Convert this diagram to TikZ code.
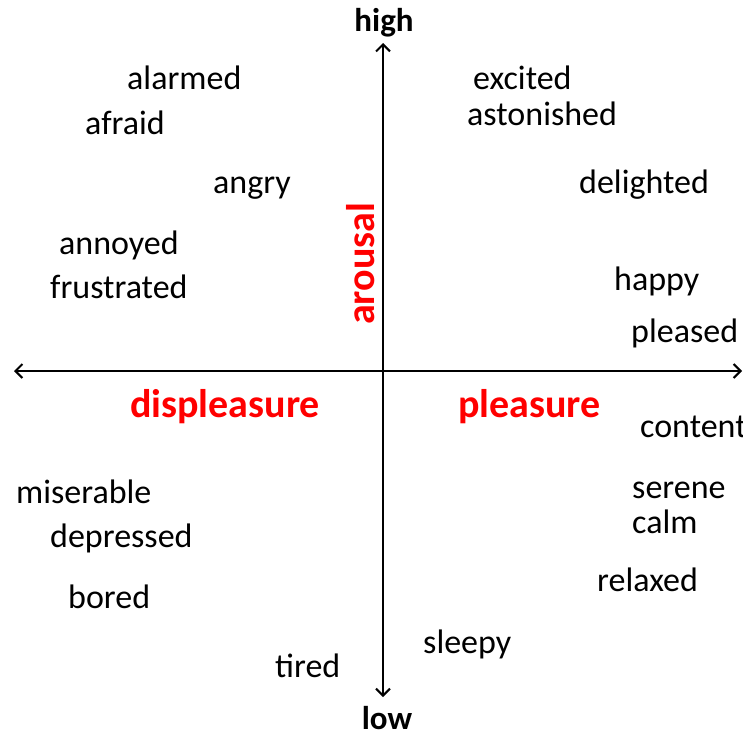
\documentclass[tikz,border=0pt]{standalone}
\usepackage{fontspec}
\setmainfont{Carlito}
\usetikzlibrary{arrows.meta}
\begin{document}
\begin{tikzpicture}[x=1pt,y=-1pt,
  word/.style={inner sep=0pt,anchor=base west,font=\fontsize{34}{40}\selectfont},
  axlabel/.style={inner sep=0pt,anchor=base,font=\fontsize{33}{40}\selectfont\bfseries},
  redlabel/.style={inner sep=0pt,anchor=base west,text=red,font=\fontsize{40}{46}\selectfont\bfseries},
  axis/.style={line width=2pt,-{Straight Barb[length=7pt,width=14pt,line width=2pt]}}]
\useasboundingbox (0,0) rectangle (743,736);
\coordinate (c) at (383,371);
\coordinate (top) at (383,43);
\coordinate (bot) at (383,697);
\coordinate (lft) at (14,371);
\coordinate (rgt) at (742,371);
\draw[axis] (c) -- (top);
\draw[axis] (c) -- (bot);
\draw[axis] (c) -- (lft);
\draw[axis] (c) -- (rgt);
\node[axlabel] (high) at (384,31) {high};
\node[axlabel] (low) at (387,729) {low};
\node[redlabel] (displeasure) at (130,417) {displeasure};
\node[redlabel] (pleasure) at (458,417) {pleasure};
\node[redlabel,rotate=90] (arousal) at (374,325) {arousal};
\node[word] (alarmed) at (127,89) {alarmed};
\node[word] (afraid) at (85,134) {afraid};
\node[word] (angry) at (213,193) {angry};
\node[word] (annoyed) at (59,254) {annoyed};
\node[word] (frustrated) at (50,298) {frustrated};
\node[word] (excited) at (473,89) {excited};
\node[word] (astonished) at (467,125) {astonished};
\node[word] (delighted) at (579,193) {delighted};
\node[word] (happy) at (614,290) {happy};
\node[word] (pleased) at (631,342) {pleased};
\node[word] (content) at (640,437) {content};
\node[word] (serene) at (632,498) {serene};
\node[word] (calm) at (632,533) {calm};
\node[word] (relaxed) at (597,591) {relaxed};
\node[word] (sleepy) at (423,653) {sleepy};
\node[word] (tired) at (275,677) {tired};
\node[word] (miserable) at (16,503) {miserable};
\node[word] (depressed) at (50,547) {depressed};
\node[word] (bored) at (68,608) {bored};
\end{tikzpicture}
\end{document}
